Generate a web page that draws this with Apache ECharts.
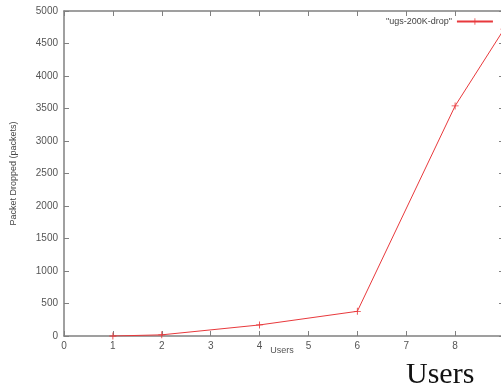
<!DOCTYPE html>
<html><head><meta charset="utf-8">
<script src="https://cdn.jsdelivr.net/npm/echarts@6/dist/echarts.min.js"></script>
<style>html,body{margin:0;padding:0;background:#fff;overflow:hidden}#c{width:512px;height:392px}</style>
</head><body><div id="c"></div>
<script>
const users = [1, 2, 4, 6, 8, 9];
const dropped = [0, 18, 170, 380, 3540, 4720];
const seriesName = '"ugs-200K-drop"';
const xTitle = 'Users';
const yTitle = 'Packet Dropped (packets)';
const xTicks = [0,1,2,3,4,5,6,7,8,9];
const yTicks = [0,500,1000,1500,2000,2500,3000,3500,4000,4500,5000];

const chart = echarts.init(document.getElementById('c'));
const plus = 'path://M0,4.4H10V5.6H0Z M4.4,0H5.6V10H4.4Z';
const axisCol = '#808080';
const lblCol = '#555';
function axisBase(extra) {
  return Object.assign({
    show: true,
    axisLine: {show: true, onZero: false, lineStyle: {color: axisCol, width: 1.5}},
    axisTick: {show: true, inside: true, length: 5, lineStyle: {color: axisCol, width: 1}},
    splitLine: {show: false}
  }, extra);
}
chart.setOption({
  animation: false,
  grid: {left: 64, top: 11, width: 440, height: 325, containLabel: false},
  legend: {
    data: [{name: seriesName}],
    left: 381, top: 12, align: 'right', itemWidth: 36, itemHeight: 8,
    textStyle: {fontFamily: 'Liberation Sans', fontSize: 9, color: '#444'},
    itemGap: 4
  },
  xAxis: [axisBase({
    type: 'value', position: 'bottom', min: 0, max: 9, interval: 1,
    axisLabel: {fontFamily: 'Liberation Sans', fontSize: 10, color: lblCol, margin: 5,
      formatter: v => String(v)}
  }), axisBase({
    type: 'value', position: 'top', min: 0, max: 9, interval: 1,
    axisLabel: {show: false}
  })],
  yAxis: [axisBase({
    type: 'value', position: 'left', min: 0, max: 5000, interval: 500,
    name: yTitle, nameLocation: 'middle', nameGap: 46, nameRotate: 90,
    nameTextStyle: {fontFamily: 'Liberation Sans', fontSize: 9, color: '#444'},
    axisLabel: {fontFamily: 'Liberation Sans', fontSize: 10, color: lblCol, margin: 6,
      formatter: v => String(v)}
  }), axisBase({
    type: 'value', position: 'right', min: 0, max: 5000, interval: 500,
    axisLabel: {show: false}
  })],
  series: [{
    name: seriesName, type: 'line',
    data: users.map((u, i) => [u, dropped[i]]),
    symbol: plus, symbolSize: 7, showSymbol: true,
    lineStyle: {color: '#e8393c', width: 1},
    itemStyle: {color: '#e8393c'}
  }],
  graphic: [{
    type: 'text', x: 282, y: 351,
    style: {text: xTitle, font: '9px "Liberation Sans"', fill: lblCol, align: 'center', verticalAlign: 'middle'}
  }, {
    type: 'text', left: 406, top: 360,
    style: {text: xTitle, font: '30px "Liberation Serif"', fill: '#111'}
  }]
});
</script></body></html>
